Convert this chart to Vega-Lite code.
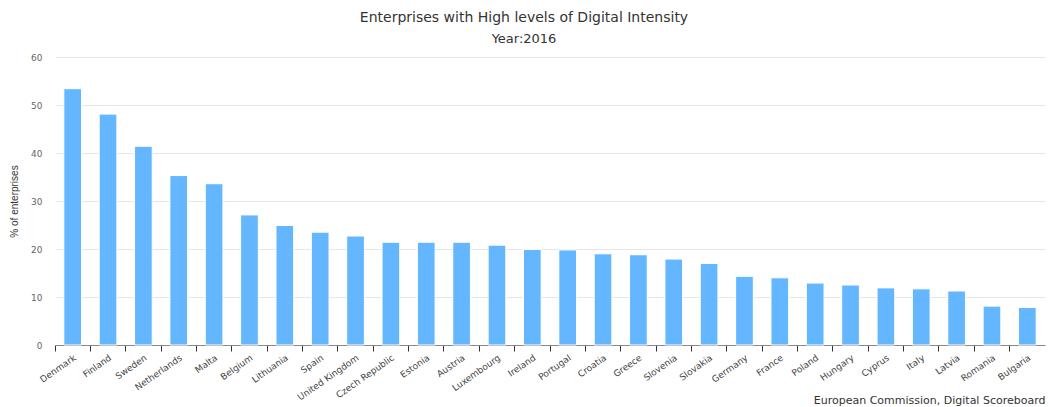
{
  "$schema": "https://vega.github.io/schema/vega-lite/v6.json",
  "autosize": "none",
  "width": 990,
  "height": 288,
  "padding": {"left": 55, "top": 57, "right": 4, "bottom": 62},
  "background": "white",
  "title": {
    "text": "Enterprises with High levels of Digital Intensity",
    "subtitle": "Year:2016",
    "anchor": "middle",
    "dx": -26,
    "offset": 7,
    "font": "DejaVu Sans",
    "fontSize": 14,
    "fontWeight": "normal",
    "color": "#333333",
    "subtitleFont": "DejaVu Sans",
    "subtitleFontSize": 13,
    "subtitleColor": "#333333",
    "subtitlePadding": 8
  },
  "data": {
    "values": [
      {"country": "Denmark", "value": 53.4},
      {"country": "Finland", "value": 48.1},
      {"country": "Sweden", "value": 41.4},
      {"country": "Netherlands", "value": 35.3},
      {"country": "Malta", "value": 33.6},
      {"country": "Belgium", "value": 27.1},
      {"country": "Lithuania", "value": 24.9},
      {"country": "Spain", "value": 23.5},
      {"country": "United Kingdom", "value": 22.7},
      {"country": "Czech Republic", "value": 21.4},
      {"country": "Estonia", "value": 21.4},
      {"country": "Austria", "value": 21.4},
      {"country": "Luxembourg", "value": 20.8},
      {"country": "Ireland", "value": 19.9},
      {"country": "Portugal", "value": 19.8},
      {"country": "Croatia", "value": 19.0},
      {"country": "Greece", "value": 18.8},
      {"country": "Slovenia", "value": 17.9},
      {"country": "Slovakia", "value": 17.0},
      {"country": "Germany", "value": 14.3},
      {"country": "France", "value": 14.0},
      {"country": "Poland", "value": 12.9},
      {"country": "Hungary", "value": 12.5},
      {"country": "Cyprus", "value": 11.9},
      {"country": "Italy", "value": 11.7},
      {"country": "Latvia", "value": 11.25},
      {"country": "Romania", "value": 8.1},
      {"country": "Bulgaria", "value": 7.8}
    ]
  },
  "mark": {"type": "bar", "width": {"band": 0.5}, "color": "#64b6fe", "stroke": "white", "strokeWidth": 1},
  "encoding": {
    "x": {
      "field": "country",
      "type": "nominal",
      "sort": null,
      "scale": {"paddingInner": 0, "paddingOuter": 0},
      "axis": {
        "title": "European Commission, Digital Scoreboard",
        "titleAnchor": "end",
        "titleAlign": "right",
        "titleBaseline": "alphabetic",
        "titleX": 990,
        "titleY": 58,
        "titleFont": "DejaVu Sans",
        "titleFontSize": 11,
        "titleFontWeight": "normal",
        "titleColor": "#333333",
        "labelAngle": -35,
        "labelAlign": "right",
        "labelBaseline": "top",
        "labelFont": "DejaVu Sans",
        "labelFontSize": 9,
        "labelColor": "#444444",
        "labelPadding": 2,
        "bandPosition": 0,
        "ticks": true,
        "tickSize": 6,
        "tickColor": "#333333",
        "domainColor": "#888888",
        "grid": false
      }
    },
    "y": {
      "field": "value",
      "type": "quantitative",
      "scale": {"domain": [0, 60], "nice": false},
      "axis": {
        "title": "% of enterprises",
        "titleFont": "Liberation Sans",
        "titleFontSize": 10,
        "titleFontWeight": "normal",
        "titleColor": "#333333",
        "titlePadding": 11,
        "values": [0, 10, 20, 30, 40, 50, 60],
        "labelFont": "DejaVu Sans",
        "labelFontSize": 9,
        "labelColor": "#666666",
        "labelPadding": 13,
        "domain": false,
        "ticks": false,
        "gridColor": "#e6e6e6"
      }
    }
  },
  "config": {"view": {"stroke": null}}
}
